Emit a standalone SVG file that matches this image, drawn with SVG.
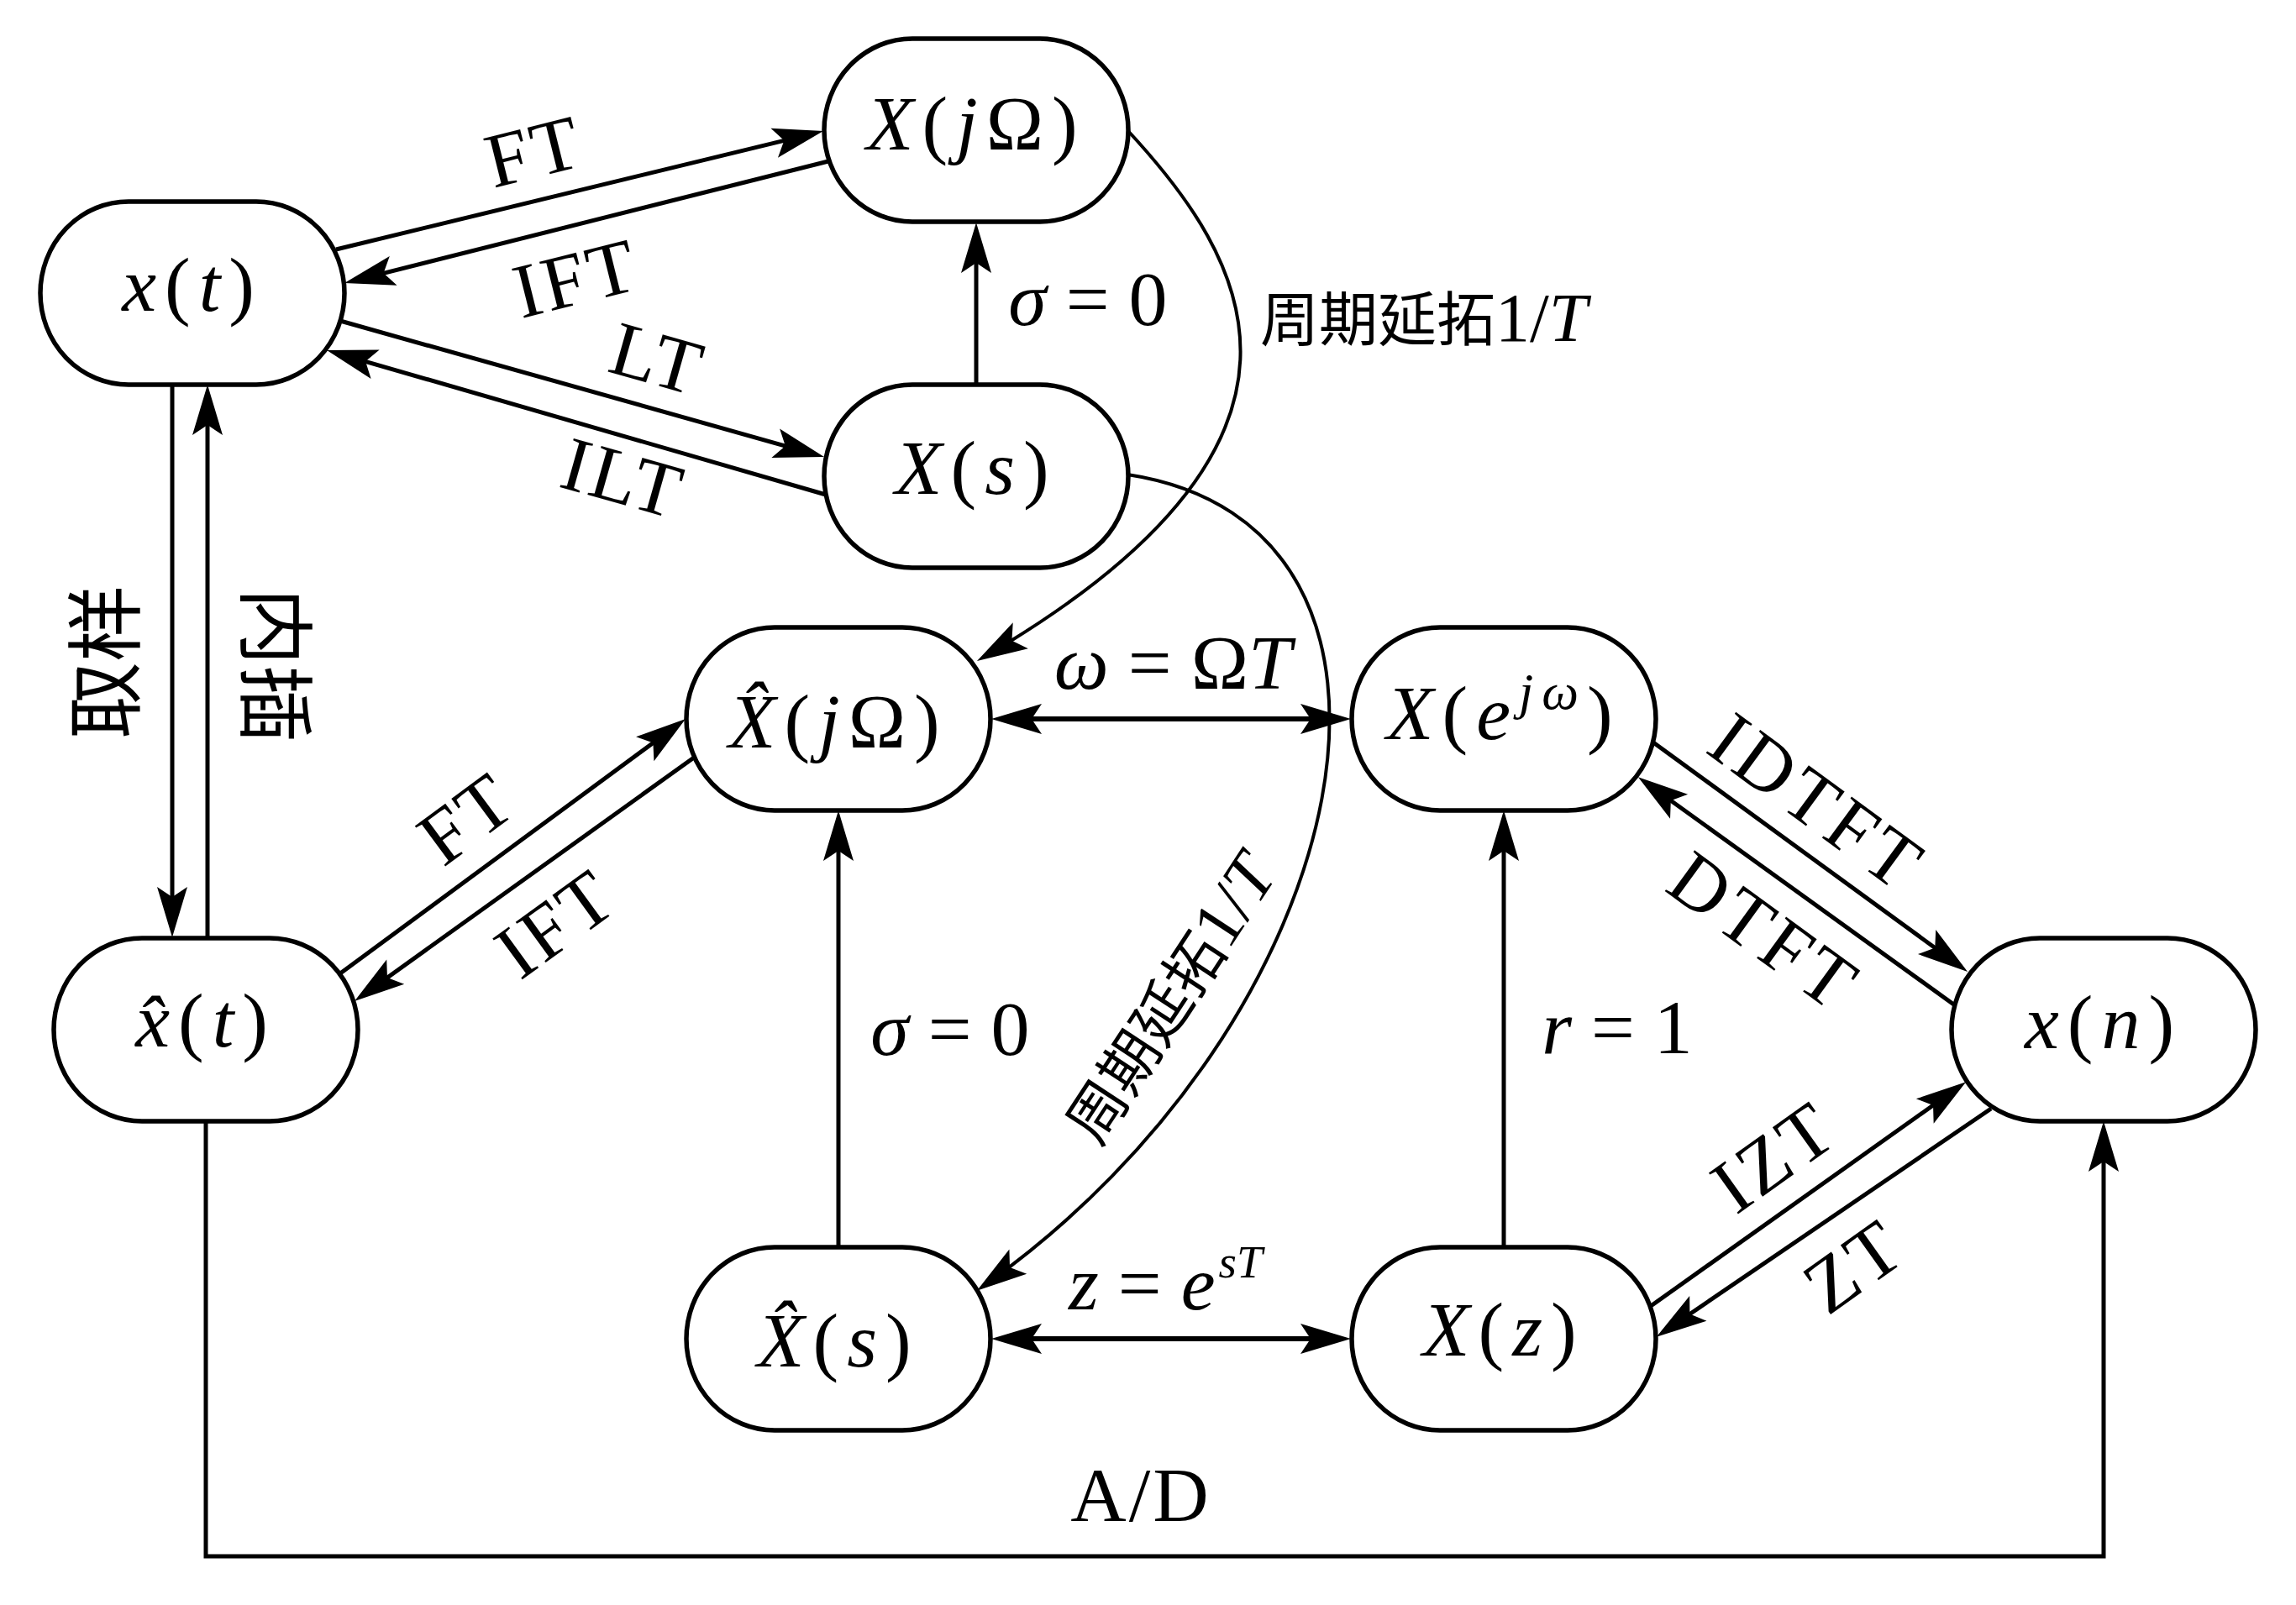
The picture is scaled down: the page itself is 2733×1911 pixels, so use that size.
<svg xmlns="http://www.w3.org/2000/svg" width="2733" height="1911" viewBox="0 0 2733 1911">
<defs>
<style>
.bg{fill:#fff}
.node rect{fill:#fff;stroke:#000;stroke-width:5.5}
.t{font-family:"Liberation Serif",serif;font-size:92px;fill:#000}
.nt{letter-spacing:10px}
.i{font-style:italic}
.cn{font-family:"Noto Sans CJK SC",sans-serif}
.conn path{fill:none;stroke:#000;stroke-width:5}
.conn path.curve{stroke-width:4}
</style>
<marker id="ah" markerUnits="userSpaceOnUse" markerWidth="80" markerHeight="50" viewBox="-55 -25 80 50" refX="0" refY="0" orient="auto-start-reverse">
<path d="M10,0 L-50,-18 L-38,0 L-50,18 Z" fill="#000"/>
</marker>
</defs>
<rect class="bg" x="0" y="0" width="2733" height="1911"/>

<g id="connectors" class="conn">
<path d="M400,297 L970.3,158.4" marker-end="url(#ah)"/>
<path d="M986,192 L419.7,334.6" marker-end="url(#ah)"/>
<path d="M405,382 L971.4,541.3" marker-end="url(#ah)"/>
<path d="M983,589 L398.6,419.8" marker-end="url(#ah)"/>
<path d="M1162,457 L1162,275" marker-end="url(#ah)"/>
<path d="M205,458 L205,1106" marker-end="url(#ah)"/>
<path d="M247,1117 L247,468" marker-end="url(#ah)"/>
<path d="M405,1159 L808,862" marker-end="url(#ah)"/>
<path d="M826,902 L430.1,1186.2" marker-end="url(#ah)"/>
<path d="M998,1485 L998,975" marker-end="url(#ah)"/>
<path d="M1190,856 L1598,856" marker-start="url(#ah)" marker-end="url(#ah)" style="stroke-width:6"/>
<path d="M1190,1594 L1598,1594" marker-start="url(#ah)" marker-end="url(#ah)" style="stroke-width:6"/>
<path d="M1790,1485 L1790,975" marker-end="url(#ah)"/>
<path d="M1968,884 L2334,1151" marker-end="url(#ah)"/>
<path d="M2327,1197 L1958,931" marker-end="url(#ah)"/>
<path d="M1965,1555 L2332,1294" marker-end="url(#ah)"/>
<path d="M2370,1320 L1980,1586" marker-end="url(#ah)"/>
<path d="M245,1335 V1853 H2504 V1345" marker-end="url(#ah)"/>
<path class="curve" d="M1342,155 C1483,307 1616,523 1171.6,782" marker-end="url(#ah)"/>
<path class="curve" d="M1342,565 C1738,625 1620,1213 1171,1531" marker-end="url(#ah)"/>
</g>

<g id="edge-labels">
<text class="t" transform="translate(636,181) rotate(-14)" x="0" y="30" text-anchor="middle" letter-spacing="4">FT</text>
<text class="t" transform="translate(686,332) rotate(-14)" x="0" y="30" text-anchor="middle" letter-spacing="4">IFT</text>
<text class="t" transform="translate(783,428) rotate(15.8)" x="0" y="30" text-anchor="middle" letter-spacing="4">LT</text>
<text class="t" transform="translate(742,570) rotate(15.8)" x="0" y="30" text-anchor="middle" letter-spacing="4">ILT</text>
<text class="t" transform="translate(556,975) rotate(-36.5)" x="0" y="30" text-anchor="middle" letter-spacing="4">FT</text>
<text class="t" transform="translate(662,1100) rotate(-36)" x="0" y="30" text-anchor="middle" letter-spacing="4">IFT</text>
<text class="t" transform="translate(2163,956) rotate(36.2)" x="0" y="30" text-anchor="middle" letter-spacing="6">IDTFT</text>
<text class="t" transform="translate(2100,1110) rotate(36)" x="0" y="30" text-anchor="middle" letter-spacing="6">DTFT</text>
<text class="t" transform="translate(2112,1378) rotate(-35.5)" x="0" y="30" text-anchor="middle" letter-spacing="4">IZT</text>
<text class="t" transform="translate(2207,1508) rotate(-35.5)" x="0" y="30" text-anchor="middle" letter-spacing="4">ZT</text>
<text class="t" x="1295" y="387" text-anchor="middle"><tspan class="i">σ</tspan> = 0</text>
<text class="t" x="1131" y="1256" text-anchor="middle"><tspan class="i">σ</tspan> = 0</text>
<text class="t" x="1925" y="1254" text-anchor="middle"><tspan class="i">r</tspan> = 1</text>
<text class="t" x="1396" y="820" text-anchor="middle"><tspan class="i">ω</tspan> = Ω<tspan class="i">T</tspan></text>
<text class="t" x="1272" y="1559"><tspan class="i">z</tspan> = <tspan class="i">e</tspan><tspan class="i" font-size="55" dy="-38" dx="4">sT</tspan></text>
<text class="t" x="1358" y="1811" text-anchor="middle" letter-spacing="3">A/D</text>
<text class="t" x="1500" y="406"><tspan class="cn" font-size="70">周期延拓</tspan><tspan font-size="82">1/</tspan><tspan class="i" font-size="82">T</tspan></text>
<text class="t" transform="translate(1394,1190) rotate(-56.7)" x="0" y="25" text-anchor="middle"><tspan class="cn" font-size="70">周期延拓</tspan><tspan font-size="82">1/</tspan><tspan class="i" font-size="82">T</tspan></text>
<text class="t cn" font-size="84" transform="translate(129,788) rotate(-90)" x="0" y="30" text-anchor="middle">取样</text>
<text class="t cn" font-size="84" transform="translate(324,792) rotate(90)" x="0" y="30" text-anchor="middle">内插</text>
</g>

<g id="node-xt" class="node">
<rect x="48" y="240" width="362" height="218" rx="105" ry="109"/>
<text class="t nt" x="229" y="370" text-anchor="middle"><tspan class="i">x</tspan>(<tspan class="i">t</tspan>)</text>
</g>
<g id="node-XjO" class="node">
<rect x="981" y="46" width="362" height="218" rx="105" ry="109"/>
<text class="t nt" x="1162" y="178" text-anchor="middle"><tspan class="i">X</tspan>(<tspan class="i">j</tspan>Ω)</text>
</g>
<g id="node-Xs" class="node">
<rect x="981" y="458" width="362" height="218" rx="105" ry="109"/>
<text class="t nt" x="1162" y="588" text-anchor="middle"><tspan class="i">X</tspan>(<tspan class="i">s</tspan>)</text>
</g>
<g id="node-XhjO" class="node">
<rect x="817" y="747" width="362" height="218" rx="105" ry="109"/>
<text class="t nt" x="998" y="890" text-anchor="middle"><tspan class="i">X̂</tspan>(<tspan class="i">j</tspan>Ω)</text>
</g>
<g id="node-Xe" class="node">
<rect x="1609" y="747" width="362" height="218" rx="105" ry="109"/>
<text class="t nt" x="1790" y="880" text-anchor="middle"><tspan class="i">X</tspan>(<tspan class="i">e</tspan><tspan class="i" font-size="62" dy="-36">jω</tspan><tspan dy="36">)</tspan></text>
</g>
<g id="node-xht" class="node">
<rect x="64" y="1117" width="362" height="218" rx="105" ry="109"/>
<text class="t nt" x="245" y="1246" text-anchor="middle"><tspan class="i">x̂</tspan>(<tspan class="i">t</tspan>)</text>
</g>
<g id="node-xn" class="node">
<rect x="2323" y="1117" width="362" height="218" rx="105" ry="109"/>
<text class="t nt" x="2504" y="1248" text-anchor="middle"><tspan class="i">x</tspan>(<tspan class="i">n</tspan>)</text>
</g>
<g id="node-Xhs" class="node">
<rect x="817" y="1485" width="362" height="218" rx="105" ry="109"/>
<text class="t nt" x="998" y="1627" text-anchor="middle"><tspan class="i">X̂</tspan>(<tspan class="i">s</tspan>)</text>
</g>
<g id="node-Xz" class="node">
<rect x="1609" y="1485" width="362" height="218" rx="105" ry="109"/>
<text class="t nt" x="1790" y="1614" text-anchor="middle"><tspan class="i">X</tspan>(<tspan class="i">z</tspan>)</text>
</g>
</svg>
